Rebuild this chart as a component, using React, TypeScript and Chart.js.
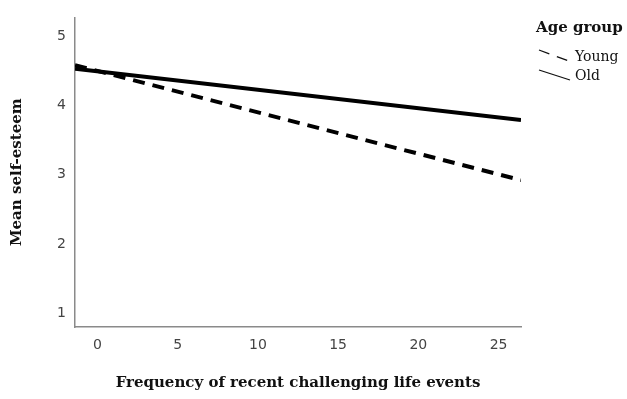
import React, { useEffect, useRef } from "react";
import { Chart, registerables } from "chart.js";

Chart.register(...registerables);

const xEnds = [-1.4, 26.4];
const youngValues = [4.58, 2.92];
const oldValues = [4.53, 3.79];
const seriesNames = ["Young", "Old"];
const legendTitle = "Age group";
const xTitle = "Frequency of recent challenging life events";
const yTitle = "Mean self-esteem";
const xTicks = [0, 5, 10, 15, 20, 25];
const yTicks = [1, 2, 3, 4, 5];

const legendPlugin = {
  id: "diagLegend",
  afterDraw(chart: any) {
    const ctx = chart.ctx;
    ctx.save();
    ctx.fillStyle = "#111";
    ctx.font = "bold 15px 'DejaVu Serif', serif";
    ctx.textBaseline = "middle";
    ctx.textAlign = "left";
    ctx.fillText(legendTitle, 536, 28);
    ctx.font = "14px 'DejaVu Serif', serif";
    ctx.strokeStyle = "#111";
    ctx.lineWidth = 1.3;
    ctx.setLineDash([11, 8]);
    ctx.beginPath();
    ctx.moveTo(539, 50);
    ctx.lineTo(569, 61);
    ctx.stroke();
    ctx.setLineDash([]);
    ctx.beginPath();
    ctx.moveTo(539, 70);
    ctx.lineTo(570, 80);
    ctx.stroke();
    ctx.fillText(seriesNames[0], 575, 57);
    ctx.fillText(seriesNames[1], 575, 76);
    ctx.restore();
  },
};

export default function App() {
  const ref = useRef<HTMLCanvasElement | null>(null);
  useEffect(() => {
    if (!ref.current) return;
    const chart = new Chart(ref.current, {
      type: "line",
      data: {
        datasets: [
          {
            label: seriesNames[0],
            data: xEnds.map((x, i) => ({ x, y: youngValues[i] })),
            borderColor: "#000",
            borderWidth: 4,
            borderDash: [12, 8],
            pointRadius: 0,
            fill: false,
          },
          {
            label: seriesNames[1],
            data: xEnds.map((x, i) => ({ x, y: oldValues[i] })),
            borderColor: "#000",
            borderWidth: 4,
            pointRadius: 0,
            fill: false,
          },
        ],
      },
      options: {
        animation: false,
        responsive: false,
        maintainAspectRatio: false,
        layout: { padding: { left: 0, top: 10, right: 106, bottom: 0 } },
        plugins: { legend: { display: false }, tooltip: { enabled: false } },
        scales: {
          x: {
            type: "linear",
            min: -1.4,
            max: 26.4,
            afterBuildTicks: (s: any) => {
              s.ticks = xTicks.map((v) => ({ value: v }));
            },
            afterFit: (s: any) => {
              s.height = 72;
            },
            grid: { display: false, drawTicks: false },
            border: { color: "#8a8a8a", width: 1.5 },
            ticks: {
              padding: 10,
              color: "#444",
              font: { family: "'DejaVu Sans', sans-serif", size: 14 },
            },
            title: {
              display: true,
              text: xTitle,
              color: "#111",
              font: { family: "'DejaVu Serif', serif", size: 15, weight: "bold" },
              padding: 7,
            },
          },
          y: {
            type: "linear",
            min: 0.8,
            max: 5.27,
            afterBuildTicks: (s: any) => {
              s.ticks = yTicks.map((v) => ({ value: v }));
            },
            afterFit: (s: any) => {
              s.width = 75;
            },
            grid: { display: false, drawTicks: false },
            border: { color: "#8a8a8a", width: 1.5 },
            ticks: {
              padding: 9,
              color: "#444",
              font: { family: "'DejaVu Sans', sans-serif", size: 14 },
            },
            title: {
              display: true,
              text: yTitle,
              color: "#111",
              font: { family: "'DejaVu Serif', serif", size: 15, weight: "bold" },
              padding: 8,
            },
          },
        },
      },
      plugins: [legendPlugin],
    } as any);
    return () => chart.destroy();
  }, []);
  return (
    <div style={{ position: "absolute", left: 0, top: 0, width: 627, height: 399, background: "#fff" }}>
      <canvas ref={ref} width={627} height={399} style={{ display: "block" }} />
    </div>
  );
}
